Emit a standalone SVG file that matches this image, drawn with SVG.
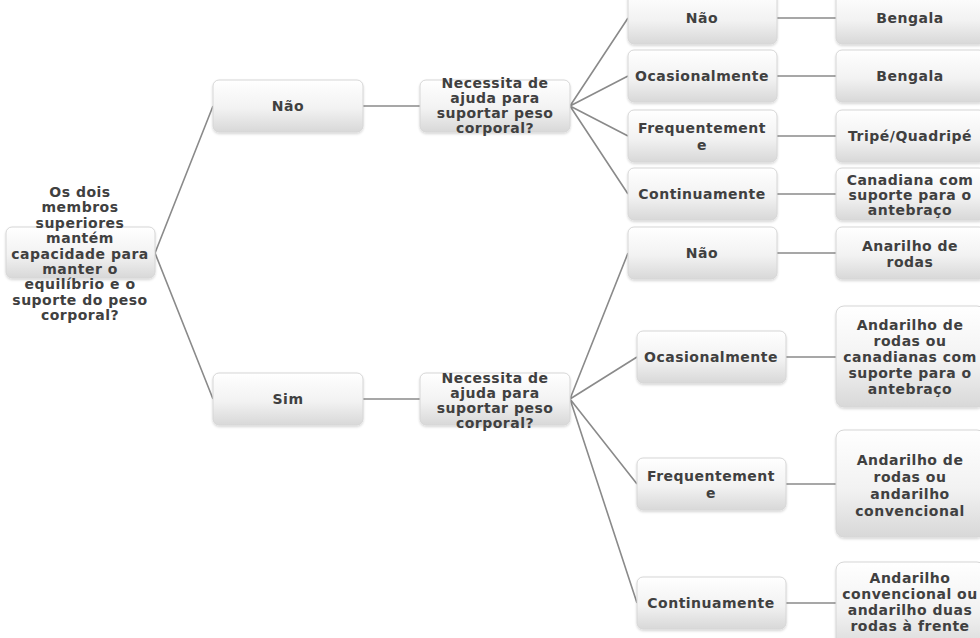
<svg xmlns="http://www.w3.org/2000/svg" width="980" height="638" viewBox="0 0 980 638">
<defs>
<linearGradient id="g" x1="0" y1="0" x2="0" y2="1">
<stop offset="0" stop-color="#ffffff"/>
<stop offset="0.55" stop-color="#f2f2f2"/>
<stop offset="1" stop-color="#d8d8d8"/>
</linearGradient>
<filter id="sh" x="-10%" y="-10%" width="120%" height="130%">
<feDropShadow dx="0" dy="1.5" stdDeviation="1.2" flood-color="#000" flood-opacity="0.16"/>
</filter>
</defs>
<style>
.b{fill:url(#g);stroke:#d6d6d6;stroke-width:1;filter:url(#sh)}
.t{font-family:"DejaVu Sans",Verdana,sans-serif;font-weight:bold;font-size:14px;fill:#404040;text-anchor:middle;letter-spacing:0.5px}
.c{stroke:#8a8a8a;stroke-width:1.6;fill:none}
</style>
<rect width="980" height="638" fill="#ffffff"/>
<g id="connectors">
<path class="c" d="M155 253 L213 106 M155 253 L213 399"/>
<path class="c" d="M363 106 H420 M363 399 H420"/>
<path class="c" d="M570 106 L628 18 M570 106 L628 76 M570 106 L628 136 M570 106 L628 194"/>
<path class="c" d="M570 399 L628 253 M570 399 L637 357 M570 399 L637 484 M570 399 L637 603"/>
<path class="c" d="M777 18 H836 M777 76 H836 M777 136 H836 M777 194 H836"/>
<path class="c" d="M777 253 H836 M786 357 H836 M786 484 H836 M786 603 H836"/>
</g>
<g id="root">
<rect class="b" x="6" y="227" width="149" height="51" rx="6"/>
<text class="t"><tspan x="80" y="197">Os dois</tspan><tspan x="80" y="212">membros</tspan><tspan x="80" y="228">superiores</tspan><tspan x="80" y="243">mantém</tspan><tspan x="80" y="259">capacidade para</tspan><tspan x="80" y="274">manter o</tspan><tspan x="80" y="289">equilíbrio e o</tspan><tspan x="80" y="305">suporte do peso</tspan><tspan x="80" y="320">corporal?</tspan></text>
</g>
<g id="nao1">
<rect class="b" x="213" y="80" width="150" height="52" rx="6"/>
<text class="t" x="288" y="111">Não</text>
</g>
<g id="sim1">
<rect class="b" x="213" y="373" width="150" height="52" rx="6"/>
<text class="t" x="288" y="404">Sim</text>
</g>
<g id="q1">
<rect class="b" x="420" y="80" width="150" height="52" rx="6"/>
<text class="t"><tspan x="495" y="88">Necessita de</tspan><tspan x="495" y="103">ajuda para</tspan><tspan x="495" y="118">suportar peso</tspan><tspan x="495" y="133">corporal?</tspan></text>
</g>
<g id="q2">
<rect class="b" x="420" y="373" width="150" height="52" rx="6"/>
<text class="t"><tspan x="495" y="383">Necessita de</tspan><tspan x="495" y="398">ajuda para</tspan><tspan x="495" y="413">suportar peso</tspan><tspan x="495" y="428">corporal?</tspan></text>
</g>
<g id="a1">
<rect class="b" x="628" y="-8" width="149" height="52" rx="6"/>
<text class="t" x="702" y="23">Não</text>
</g>
<g id="a2">
<rect class="b" x="628" y="50" width="149" height="52" rx="6"/>
<text class="t" x="702" y="81">Ocasionalmente</text>
</g>
<g id="a3">
<rect class="b" x="628" y="110" width="149" height="52" rx="6"/>
<text class="t"><tspan x="702" y="133">Frequentement</tspan><tspan x="702" y="150">e</tspan></text>
</g>
<g id="a4">
<rect class="b" x="628" y="168" width="149" height="52" rx="6"/>
<text class="t" x="702" y="199">Continuamente</text>
</g>
<g id="r1">
<rect class="b" x="836" y="-8" width="149" height="52" rx="6"/>
<text class="t" x="910" y="23">Bengala</text>
</g>
<g id="r2">
<rect class="b" x="836" y="50" width="149" height="52" rx="6"/>
<text class="t" x="910" y="81">Bengala</text>
</g>
<g id="r3">
<rect class="b" x="836" y="110" width="149" height="52" rx="6"/>
<text class="t" x="910" y="141">Tripé/Quadripé</text>
</g>
<g id="r4">
<rect class="b" x="836" y="168" width="149" height="52" rx="6"/>
<text class="t"><tspan x="910" y="185">Canadiana com</tspan><tspan x="910" y="200">suporte para o</tspan><tspan x="910" y="215">antebraço</tspan></text>
</g>
<g id="b1">
<rect class="b" x="628" y="227" width="149" height="52" rx="6"/>
<text class="t" x="702" y="258">Não</text>
</g>
<g id="b2">
<rect class="b" x="637" y="331" width="149" height="52" rx="6"/>
<text class="t" x="711" y="362">Ocasionalmente</text>
</g>
<g id="b3">
<rect class="b" x="637" y="458" width="149" height="52" rx="6"/>
<text class="t"><tspan x="711" y="481">Frequentement</tspan><tspan x="711" y="498">e</tspan></text>
</g>
<g id="b4">
<rect class="b" x="637" y="577" width="149" height="52" rx="6"/>
<text class="t" x="711" y="608">Continuamente</text>
</g>
<g id="s1">
<rect class="b" x="836" y="227" width="149" height="52" rx="6"/>
<text class="t"><tspan x="910" y="251">Anarilho de</tspan><tspan x="910" y="267">rodas</tspan></text>
</g>
<g id="s2">
<rect class="b" x="836" y="306" width="149" height="101" rx="8"/>
<text class="t"><tspan x="910" y="330">Andarilho de</tspan><tspan x="910" y="346">rodas ou</tspan><tspan x="910" y="362">canadianas com</tspan><tspan x="910" y="378">suporte para o</tspan><tspan x="910" y="394">antebraço</tspan></text>
</g>
<g id="s3">
<rect class="b" x="836" y="430" width="149" height="107" rx="8"/>
<text class="t"><tspan x="910" y="465">Andarilho de</tspan><tspan x="910" y="482">rodas ou</tspan><tspan x="910" y="499">andarilho</tspan><tspan x="910" y="516">convencional</tspan></text>
</g>
<g id="s4">
<rect class="b" x="836" y="562" width="149" height="90" rx="8"/>
<text class="t"><tspan x="910" y="583">Andarilho</tspan><tspan x="910" y="599">convencional ou</tspan><tspan x="910" y="615">andarilho duas</tspan><tspan x="910" y="631">rodas à frente</tspan></text>
</g>
</svg>
